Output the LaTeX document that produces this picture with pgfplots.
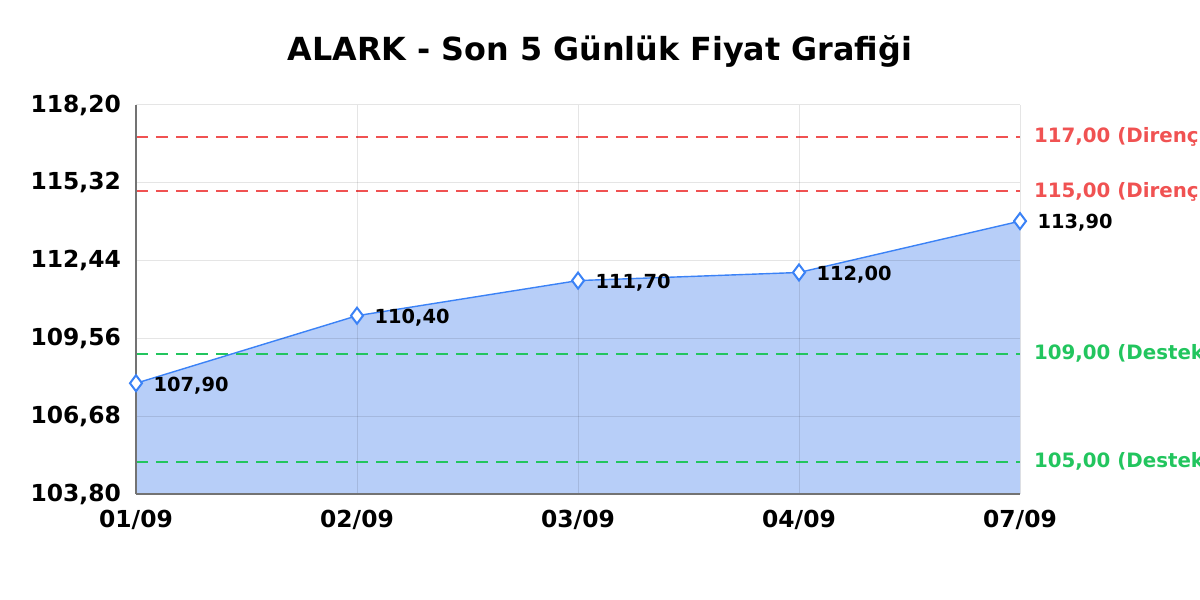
\documentclass[border=0pt]{standalone}
\usepackage{pgfplots}
\pgfplotsset{compat=1.18}
\usepackage{fontspec}
\setmainfont{DejaVu Sans}

\definecolor{lineblue}{HTML}{3B82F6}
\definecolor{fillblue}{HTML}{B7CEF8}
\definecolor{resred}{HTML}{F05252}
\definecolor{supgreen}{HTML}{22C55E}

\tikzset{level/.style={draw=#1, line width=1pt, dash pattern=on 6pt off 4pt}}

\begin{document}
\begin{tikzpicture}
  \begin{axis}[
    scale only axis,
    width=442pt, height=194.5pt,
    xmin=0, xmax=4,
    ymin=103.8, ymax=118.2,
    xtick={0,1,2,3,4},
    xticklabels={01/09,02/09,03/09,04/09,07/09},
    ytick={103.8,106.68,109.56,112.44,115.32,118.2},
    yticklabel={\pgfmathprintnumber[fixed,zerofill,precision=2,use comma]{\tick}},
    /pgf/number format/assume math mode=true,
    ticklabel style={font=\fontsize{11.7}{13}\selectfont\bfseries},
    yticklabel style={xshift=-4pt},
    xticklabel style={yshift=-4.5pt},
    major tick length=0pt,
    axis lines*=left,
    axis line style={draw=black!55, line width=0.6pt},
    grid=major,
    grid style={draw=black, opacity=0.1, line width=0.5pt},
    axis on top,
    clip=false,
    title={ALARK - Son 5 Günlük Fiyat Grafiği},
    title style={font=\fontsize{15.9}{18}\selectfont\bfseries, at={(0.5,1)}, anchor=center, xshift=11pt, yshift=21pt},
  ]
    % area under price
    \addplot[fill=fillblue, draw=none, forget plot] coordinates {
      (0,103.8) (0,107.90) (1,110.40) (2,111.70) (3,112.00) (4,113.90) (4,103.8)
    } -- cycle;

    % support / resistance levels
    \addplot[level=resred] coordinates {(0,117) (4,117)};
    \addplot[level=resred] coordinates {(0,115) (4,115)};
    \addplot[level=supgreen] coordinates {(0,109) (4,109)};
    \addplot[level=supgreen] coordinates {(0,105) (4,105)};

    % price line
    \addplot[lineblue, line width=0.7pt, mark=diamond*,
      mark options={fill=white, draw=lineblue, solid, line width=1pt, scale=2},
      nodes near coords={\pgfmathprintnumber[fixed,zerofill,precision=2,use comma]{\pgfplotspointmeta}},
      every node near coord/.append style={anchor=west, xshift=5pt, yshift=-1pt,
        font=\fontsize{9.7}{11}\selectfont\bfseries, text=black},
    ] coordinates {
      (0,107.90) (1,110.40) (2,111.70) (3,112.00) (4,113.90)
    };

    \begin{scope}[font=\fontsize{9.9}{11}\selectfont\bfseries]
      \node[anchor=west, text=resred, xshift=3.5pt] at (axis cs:4,117) {117,00 (Direnç)};
      \node[anchor=west, text=resred, xshift=3.5pt] at (axis cs:4,115) {115,00 (Direnç)};
      \node[anchor=west, text=supgreen, xshift=3.5pt] at (axis cs:4,109) {109,00 (Destek)};
      \node[anchor=west, text=supgreen, xshift=3.5pt] at (axis cs:4,105) {105,00 (Destek)};
    \end{scope}
  \end{axis}
  \pgfresetboundingbox
  \path[use as bounding box] (-68pt,-53pt) rectangle (532pt,247pt);
\end{tikzpicture}
\end{document}
